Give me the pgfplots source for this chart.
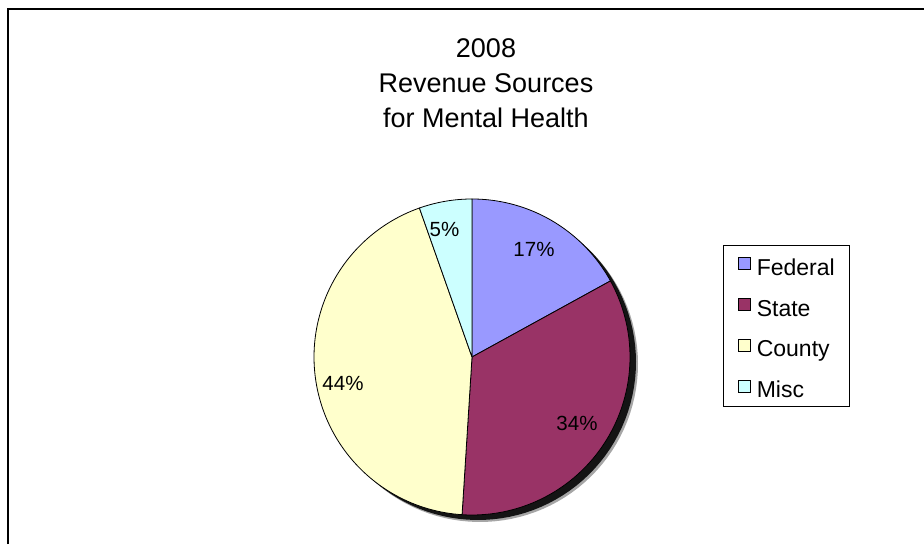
\documentclass[border=0pt]{standalone}
\usepackage{pgfplots}
\pgfplotsset{compat=1.18}
\usepackage{pgfplotstable}
\usepackage{fontspec}
\setmainfont{Liberation Sans}
\definecolor{cFed}{HTML}{9999FF}
\definecolor{cSta}{HTML}{993366}
\definecolor{cCou}{HTML}{FFFFCC}
\definecolor{cMis}{HTML}{CCFFFF}

\pgfplotstableread{
source value
Federal 17.0
State 34.0
County 43.6
Misc 5.4
}\piedata
\pgfplotstablegetelem{0}{value}\of\piedata \let\vFed\pgfplotsretval
\pgfplotstablegetelem{1}{value}\of\piedata \let\vSta\pgfplotsretval
\pgfplotstablegetelem{2}{value}\of\piedata \let\vCou\pgfplotsretval
\pgfplotstablegetelem{3}{value}\of\piedata \let\vMis\pgfplotsretval

\def\cx{472}\def\cy{187}\def\R{158}
\pgfmathsetmacro\tA{90}
\pgfmathsetmacro\tB{\tA-3.6*\vFed}
\pgfmathsetmacro\tC{\tB-3.6*\vSta}
\pgfmathsetmacro\tD{\tC-3.6*\vCou}
\pgfmathsetmacro\tE{\tD-3.6*\vMis}

\pgfplotsset{sq legend/.style={legend image code/.code={%
  \draw[draw=black,line width=0.8pt,##1] (0pt,-5pt) rectangle (12pt,7pt);}}}

\begin{document}
\begin{tikzpicture}
\begin{axis}[
  width=924pt, height=544pt, scale only axis,
  xmin=0, xmax=924, ymin=0, ymax=544,
  hide axis, clip=false,
  legend style={at={(axis description cs:0.78214,0.54963)}, anchor=north west,
    draw=black, line width=0.8pt, inner xsep=14.6pt, inner ysep=9pt,
    row sep=19.7pt, font=\fontsize{23}{27}\selectfont,
    nodes={inner sep=0pt, text height=21pt, text depth=0pt},
    /tikz/every odd column/.append style={column sep=6.3pt}},
  legend cell align=left,
]
% frame
\addplot[black, line width=2pt, forget plot] coordinates {(7.7,0) (7.7,534.7) (924,534.7)};
% shadow
\addplot[fill=black!35, draw=none, domain=0:360, samples=120, forget plot]
  ({\cx+8+\R*cos(x)},{\cy-7+\R*sin(x)});
\addplot[fill=black!92, draw=none, domain=0:360, samples=120, forget plot]
  ({\cx+6+\R*cos(x)},{\cy-5+\R*sin(x)});
% wedges
\addplot[fill=cFed, draw=black, line width=0.8pt, line join=round, domain=\tB:\tA, samples=60, forget plot]
  ({\cx+\R*cos(x)},{\cy+\R*sin(x)}) -- (axis cs:\cx,\cy) -- cycle;
\addplot[fill=cSta, draw=black, line width=0.8pt, line join=round, domain=\tC:\tB, samples=80, forget plot]
  ({\cx+\R*cos(x)},{\cy+\R*sin(x)}) -- (axis cs:\cx,\cy) -- cycle;
\addplot[fill=cCou, draw=black, line width=0.8pt, line join=round, domain=\tD:\tC, samples=100, forget plot]
  ({\cx+\R*cos(x)},{\cy+\R*sin(x)}) -- (axis cs:\cx,\cy) -- cycle;
\addplot[fill=cMis, draw=black, line width=0.8pt, line join=round, domain=\tE:\tD, samples=20, forget plot]
  ({\cx+\R*cos(x)},{\cy+\R*sin(x)}) -- (axis cs:\cx,\cy) -- cycle;
% labels
\node[anchor=base, font=\fontsize{20.5}{24}\selectfont] at (axis cs:534,287) {17\%};
\node[anchor=base, font=\fontsize{20.5}{24}\selectfont] at (axis cs:577,113.3) {34\%};
\node[anchor=base, font=\fontsize{20.5}{24}\selectfont] at (axis cs:343,153.3) {44\%};
\node[anchor=base, font=\fontsize{20.5}{24}\selectfont] at (axis cs:444.5,307.3) {5\%};
% title
\node[anchor=base, font=\fontsize{27}{32}\selectfont] at (axis cs:486,486.3) {2008};
\node[anchor=base, font=\fontsize{27}{32}\selectfont] at (axis cs:486,451.3) {Revenue Sources};
\node[anchor=base, font=\fontsize{27}{32}\selectfont] at (axis cs:486,416.7) {for Mental Health};
% legend
\addlegendimage{sq legend, fill=cFed}\addlegendentry{Federal}
\addlegendimage{sq legend, fill=cSta}\addlegendentry{State}
\addlegendimage{sq legend, fill=cCou}\addlegendentry{County}
\addlegendimage{sq legend, fill=cMis}\addlegendentry{Misc}
\end{axis}
\pgfresetboundingbox
\useasboundingbox (current axis.south west) rectangle (current axis.north east);
\end{tikzpicture}
\end{document}
